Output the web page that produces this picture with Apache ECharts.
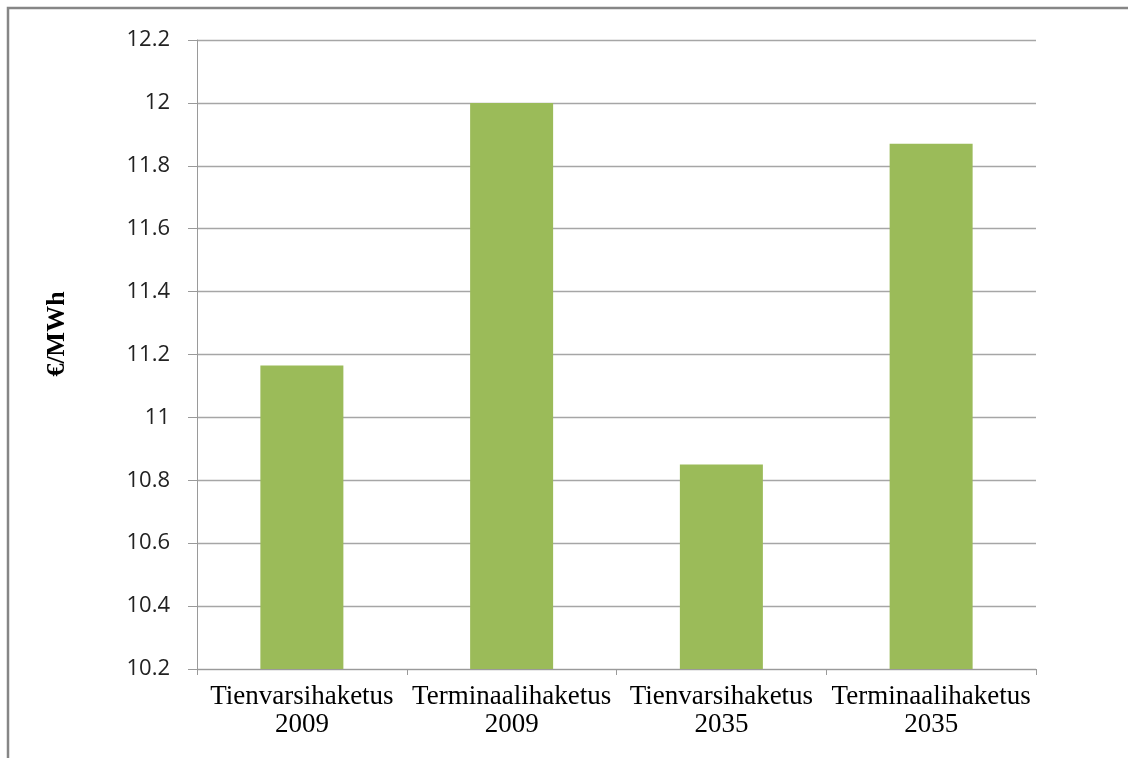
<!DOCTYPE html>
<html>
<head>
<meta charset="utf-8">
<script src="https://cdn.jsdelivr.net/npm/echarts@6/dist/echarts.min.js"></script>
<style>
  html, body { margin: 0; padding: 0; background: #fff; }
  #chart { width: 1128px; height: 758px; }
</style>
</head>
<body>
<div id="chart"></div>
<script>
// Chipping cost per energy unit by method and year
const categories = [
  'Tienvarsihaketus\n2009',
  'Terminaalihaketus\n2009',
  'Tienvarsihaketus\n2035',
  'Terminaalihaketus\n2035'
];
const costs = [11.165, 12.0, 10.85, 11.87];
const yMin = 10.2;
const yMax = 12.2;
const yStep = 0.2;
const yAxisTitle = '€/MWh';

const chart = echarts.init(document.getElementById('chart'));
chart.setOption({
  animation: false,
  backgroundColor: '#ffffff',
  graphic: [
    {
      type: 'rect',
      shape: { x: 8, y: 8, width: 1200, height: 800 },
      style: { fill: 'none', stroke: '#868686', lineWidth: 2.5 },
      silent: true
    },
    {
      type: 'text',
      x: 57,
      y: 334,
      rotation: Math.PI / 2,
      style: {
        text: yAxisTitle,
        font: 'bold 26px "Liberation Serif", serif',
        fill: '#000',
        align: 'center',
        verticalAlign: 'middle'
      }
    }
  ],
  grid: { left: 197, right: 92, top: 40, bottom: 89, containLabel: false },
  xAxis: {
    type: 'category',
    data: categories,
    axisLine: { lineStyle: { color: '#9a9a9a', width: 1 } },
    axisTick: { show: true, length: 6, lineStyle: { color: '#9a9a9a' } },
    axisLabel: {
      margin: 14,
      color: '#000',
      fontFamily: '"Liberation Serif", serif',
      fontSize: 27,
      lineHeight: 28,
      interval: 0
    }
  },
  yAxis: {
    type: 'value',
    min: yMin,
    max: yMax,
    interval: yStep,
    axisLine: { show: true, lineStyle: { color: '#9a9a9a', width: 1 } },
    axisTick: { show: true, inside: false, length: 9, lineStyle: { color: '#9a9a9a' } },
    splitLine: { lineStyle: { color: '#a6a6a6', width: 1.3 } },
    axisLabel: {
      margin: 27,
      color: '#222',
      fontFamily: '"Open Sans", "Noto Sans", sans-serif',
      fontSize: 22,
      formatter: v => String(parseFloat(v.toFixed(1)))
    }
  },
  series: [{
    type: 'bar',
    data: costs,
    barWidth: 83,
    itemStyle: { color: '#9bbb59' }
  }]
});
</script>
</body>
</html>
